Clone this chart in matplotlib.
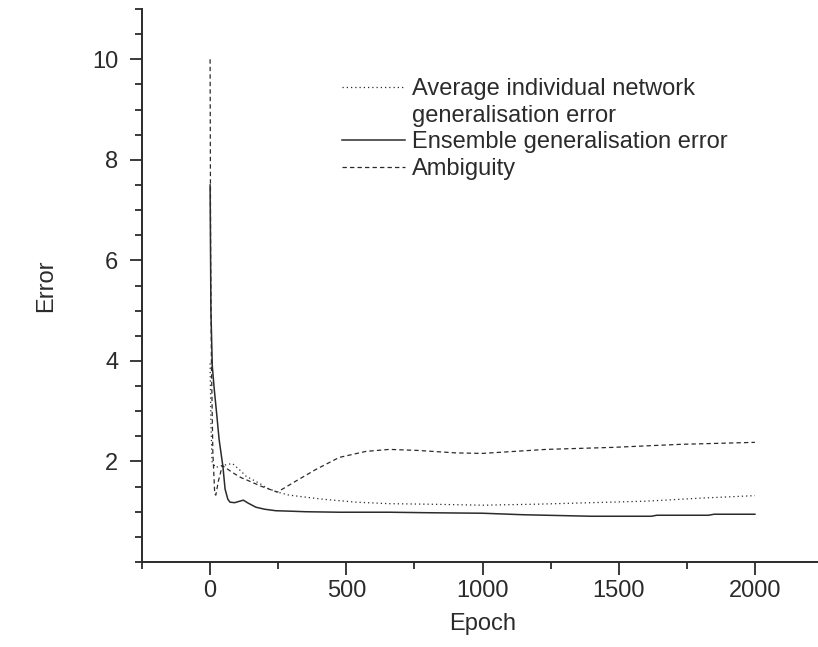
import matplotlib
matplotlib.use('Agg')
import matplotlib.pyplot as plt
from matplotlib.lines import Line2D
from matplotlib.ticker import MultipleLocator

plt.rcParams['font.family'] = ['Liberation Sans', 'DejaVu Sans']

# 数据：从图中读取
avg_epoch = [0, 3, 7, 20, 45, 82, 113, 131, 186, 205, 247, 290, 412, 536, 658,
             800, 1000, 1200, 1400, 1600, 1800, 2000]
avg_error = [3.95, 2.8, 2.0, 1.88, 1.92, 1.96, 1.81, 1.71, 1.55, 1.48, 1.39, 1.33,
             1.25, 1.19, 1.16, 1.15, 1.13, 1.15, 1.18, 1.21, 1.27, 1.32]

ens_epoch = [0, 3, 8, 15, 25, 33, 47, 55, 65, 73, 90, 122, 140, 168, 200, 241, 300,
             351, 474, 658, 800, 1000, 1150, 1400, 1620, 1640, 1830, 1850, 2000]
ens_error = [7.5, 5.0, 3.9, 3.45, 2.9, 2.44, 1.9, 1.45, 1.25, 1.19, 1.18, 1.23, 1.17,
             1.09, 1.05, 1.02, 1.01, 1.0, 0.99, 0.99, 0.98, 0.97, 0.94, 0.91, 0.91,
             0.93, 0.93, 0.95, 0.95]

amb_epoch = [0, 2, 5, 10, 17, 21, 30, 45, 82, 113, 131, 186, 247, 315, 388, 474,
             572, 658, 760, 903, 1000, 1234, 1479, 1724, 2000]
amb_error = [10.0, 6.0, 3.9, 2.2, 1.35, 1.33, 1.6, 1.92, 1.78, 1.68, 1.64, 1.51, 1.39,
             1.61, 1.84, 2.08, 2.2, 2.24, 2.22, 2.17, 2.16, 2.24, 2.28, 2.34, 2.38]

labels = ['Average individual network', 'generalisation error',
          'Ensemble generalisation error', 'Ambiguity']

ink = '#2b2b2b'
fig = plt.figure(figsize=(8.18, 6.47), dpi=100)
ax = fig.add_axes([142 / 818, 85 / 647, 681 / 818, 553 / 647])

dotted = (0, (1, 2.4))
dashed = (0, (3.5, 2.5))
ax.plot(avg_epoch, avg_error, color=ink, lw=0.9, linestyle=dotted)
ax.plot(ens_epoch, ens_error, color=ink, lw=1.1, linestyle='-')
ax.plot(amb_epoch, amb_error, color=ink, lw=0.9, linestyle=dashed)

ax.set_xlim(-250, 2250)
ax.set_ylim(0, 11)
ax.set_xticks([0, 500, 1000, 1500, 2000])
ax.xaxis.set_minor_locator(MultipleLocator(250))
ax.set_yticks([2, 4, 6, 8, 10])
ax.yaxis.set_minor_locator(MultipleLocator(0.5))

for s in ['top', 'right']:
    ax.spines[s].set_visible(False)
for s in ['left', 'bottom']:
    ax.spines[s].set_color(ink)
    ax.spines[s].set_linewidth(1.4)

ax.tick_params(which='major', length=9, width=1.3, color=ink, labelsize=17,
               labelcolor=ink, pad=8)
ax.tick_params(which='minor', length=5, width=1.3, color=ink)
ax.tick_params(axis='x', pad=4)

ax.set_xlabel('Epoch', fontsize=17, color=ink, labelpad=8)
ax.set_ylabel('Error', fontsize=17, color=ink, labelpad=25)

handles = [Line2D([], [], color=ink, lw=0.9, linestyle=dotted),
           Line2D([], [], linestyle='none'),
           Line2D([], [], color=ink, lw=1.1),
           Line2D([], [], color=ink, lw=0.9, linestyle=dashed)]
fig.legend(handles, labels, loc='upper left', bbox_to_anchor=(342 / 818, 1 - 78 / 647),
           frameon=False, fontsize=17, handlelength=2.67, handletextpad=0.3,
           labelspacing=0.2, borderpad=0, borderaxespad=0, labelcolor=ink)

fig.savefig('out.png', dpi=100, facecolor='white')
